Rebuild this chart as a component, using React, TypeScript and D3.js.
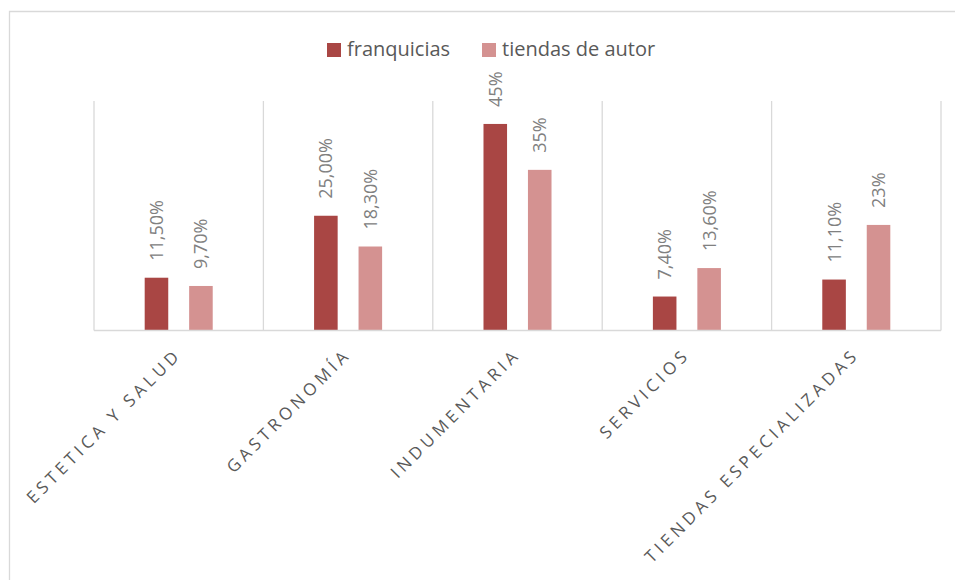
import React from "react";
import * as d3 from "d3";

const categories = ["ESTETICA Y SALUD", "GASTRONOMÍA", "INDUMENTARIA", "SERVICIOS", "TIENDAS ESPECIALIZADAS"];
const seriesNames = ["franquicias", "tiendas de autor"];
const franquicias = [11.5, 25, 45, 7.4, 11.1];
const tiendasDeAutor = [9.7, 18.3, 35, 13.6, 23];
const franquiciasLabels = ["11,50%", "25,00%", "45%", "7,40%", "11,10%"];
const tiendasLabels = ["9,70%", "18,30%", "35%", "13,60%", "23%"];
const colors = ["#A94644", "#D49291"];

const W = 955;
const H = 580;
const plot = { left: 94, right: 941, top: 101, bottom: 330.5 };
const FONT = "'Open Sans', sans-serif";

export default function App() {
  const x0 = d3.scaleBand<string>().domain(categories).range([plot.left, plot.right]).padding(0);
  const x1 = d3.scaleBand<string>().domain(seriesNames).range([0, x0.bandwidth()]).paddingInner(0.47).paddingOuter(1.14);
  const y = d3.scaleLinear().domain([0, 50]).range([plot.bottom, plot.top]);
  const series = [franquicias, tiendasDeAutor];
  const labels = [franquiciasLabels, tiendasLabels];
  const boundaries = categories.map((c) => x0(c) as number).concat([plot.right]);

  return (
    <svg width={W} height={H} style={{ position: "absolute", left: 0, top: 0, display: "block", background: "#fff" }}>
      <rect x={0} y={0} width={W} height={H} fill="#fff" />
      {/* chart border */}
      <path d={`M9.5,${H} V11.5 H${W}`} fill="none" stroke="#D9D9D9" strokeWidth={1.3} />
      {/* vertical gridlines */}
      {boundaries.map((bx, i) => (
        <line key={"g" + i} x1={bx} x2={bx} y1={plot.top} y2={plot.bottom} stroke="#D9D9D9" strokeWidth={1.3} />
      ))}
      {/* bars */}
      {categories.map((c, ci) =>
        seriesNames.map((s, si) => {
          const v = series[si][ci];
          const bx = (x0(c) as number) + (x1(s) as number);
          const bw = x1.bandwidth();
          const top = y(v);
          return (
            <g key={c + s}>
              <rect x={bx} y={top} width={bw} height={plot.bottom - top} fill={colors[si]} />
              <text
                transform={`translate(${bx + bw / 2},${top - 17}) rotate(-90)`}
                dy="0.36em"
                fontFamily={FONT}
                fontSize={18}
                fill="#808080"
                textAnchor="start"
              >
                {labels[si][ci]}
              </text>
            </g>
          );
        })
      )}
      {/* baseline */}
      <line x1={plot.left} x2={plot.right} y1={plot.bottom} y2={plot.bottom} stroke="#D9D9D9" strokeWidth={1.5} />
      {/* category labels */}
      {categories.map((c) => {
        const cx = (x0(c) as number) + x0.bandwidth() / 2;
        return (
          <text
            key={"l" + c}
            transform={`translate(${cx + 4},${plot.bottom + 25}) rotate(-45)`}
            fontFamily={FONT}
            fontSize={17}
            letterSpacing={4.1}
            fill="#595959"
            textAnchor="end"
          >
            {c}
          </text>
        );
      })}
      {/* legend */}
      {seriesNames.map((s, i) => {
        const lx = [327, 482][i];
        return (
          <g key={"lg" + s}>
            <rect x={lx} y={43} width={14} height={14} fill={colors[i]} />
            <text x={lx + 20} y={56} fontFamily={FONT} fontSize={20} fill="#595959">
              {s}
            </text>
          </g>
        );
      })}
    </svg>
  );
}
